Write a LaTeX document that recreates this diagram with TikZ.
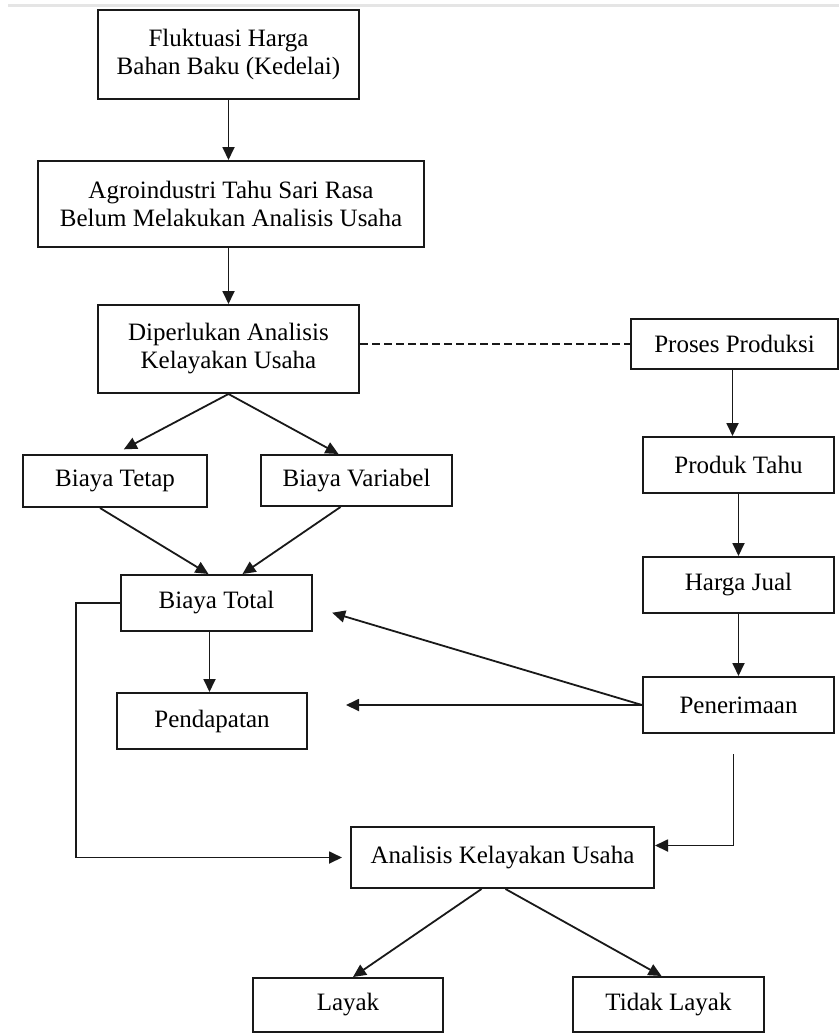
\documentclass[tikz,border=0pt]{standalone}
\usepackage{fontspec}
\setmainfont{Liberation Serif}
\usetikzlibrary{arrows.meta}

\begin{document}
\begin{tikzpicture}[x=1pt, y=-1pt,
    box/.style={draw=black!90, line width=2pt, align=center, inner sep=0pt,
        font=\fontsize{25}{28}\selectfont},
    arr/.style={draw=black!90, line width=1.8pt, -{Triangle[length=13pt,width=12pt]}}]
    \useasboundingbox (0,0) rectangle (839,1034);

    % Page edge
    \fill[black!10] (8,4) rectangle (839,7);

    % Left column
    \node[box, minimum width=261pt, minimum height=89pt] (fluktuasi) at (228.5,54.5) {Fluktuasi Harga\\Bahan Baku (Kedelai)};
    \node[box, minimum width=386pt, minimum height=86pt] (agro) at (231,204) {Agroindustri Tahu Sari Rasa\\Belum Melakukan Analisis Usaha};
    \node[box, minimum width=261pt, minimum height=88pt] (perlu) at (228.5,349) {Diperlukan Analisis\\Kelayakan Usaha};

    % Costs
    \node[box, minimum width=184pt, minimum height=52pt] (tetap) at (115,481) {Biaya Tetap};
    \node[box, minimum width=191pt, minimum height=51pt] (variabel) at (356.5,480.5) {Biaya Variabel};
    \node[box, minimum width=191pt, minimum height=56pt] (total) at (216.5,603) {Biaya Total};
    \node[box, minimum width=190pt, minimum height=56pt] (pendapatan) at (212,721) {Pendapatan};

    % Right column
    \node[box, minimum width=207pt, minimum height=50pt] (proses) at (734.5,344) {Proses Produksi};
    \node[box, minimum width=191pt, minimum height=56pt] (produk) at (738.5,465) {Produk Tahu};
    \node[box, minimum width=191pt, minimum height=56pt] (harga) at (738.5,585) {Harga Jual};
    \node[box, minimum width=191pt, minimum height=56pt] (penerimaan) at (738.5,705) {Penerimaan};

    % Result
    \node[box, minimum width=303pt, minimum height=61pt] (analisis) at (502.5,857.5) {Analisis Kelayakan Usaha};
    \node[box, minimum width=190pt, minimum height=54pt] (layak) at (348,1005) {Layak};
    \node[box, minimum width=191pt, minimum height=55pt] (tidak) at (668.5,1004.5) {Tidak Layak};

    % Arrows down the left
    \draw[arr] (fluktuasi.south) -- (fluktuasi.south |- agro.north);
    \draw[arr] (perlu.north |- agro.south) -- (perlu.north);
    \draw[arr, shorten >=10pt] (perlu.south) -- (tetap.north);
    \draw[arr] (perlu.south) -- ([xshift=-18pt]variabel.north);
    \draw[arr] ([xshift=-15pt]tetap.south) -- ([xshift=-8pt]total.north);
    \draw[arr] ([xshift=-16pt]variabel.south) -- ([xshift=26pt]total.north);
    \draw[arr] ([xshift=-7pt]total.south) -- ([xshift=-7pt]total.south |- pendapatan.north);

    % Link to the production side
    \draw[draw=black!90, line width=1.5pt, dash pattern=on 8pt off 4pt] (perlu.east |- proses.west) -- (proses.west);

    % Arrows down the right
    \draw[arr] ([xshift=-2pt]proses.south) -- ([xshift=-2pt]proses.south |- produk.north);
    \draw[arr] (produk.south) -- (harga.north);
    \draw[arr] (harga.south) -- (penerimaan.north);

    % From Penerimaan
    \draw[arr, shorten >=20pt] (penerimaan.west) -- ([yshift=-4pt]total.east);
    \draw[arr, shorten >=38pt] (penerimaan.west) -- (pendapatan.east |- penerimaan.west);

    % Into Analisis
    \draw[arr, shorten >=8pt] (total.west) -- ++(-44,0) |- (analisis.west);
    \draw[arr, shorten <=20pt] ([xshift=-5pt]penerimaan.south) |- ([yshift=12pt]analisis.east);

    % Outcome
    \draw[arr] ([xshift=-21pt]analisis.south) -- ([xshift=5pt]layak.north);
    \draw[arr] ([xshift=3pt]analisis.south) -- ([xshift=-7pt]tidak.north);
\end{tikzpicture}
\end{document}
